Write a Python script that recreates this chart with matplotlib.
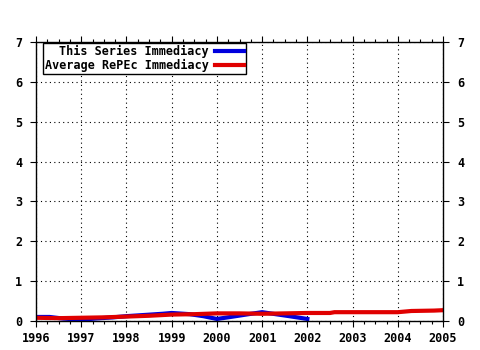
import matplotlib
matplotlib.use('Agg')
import matplotlib.pyplot as plt
from matplotlib.ticker import MultipleLocator

plt.rcParams.update({'font.family': 'DejaVu Sans Mono', 'font.weight': 'bold', 'font.size': 8.5})

# Series data
series_years = [1996.0, 1996.3, 1996.6, 1997.0, 1997.3, 1997.7, 1998.0, 1998.4, 1998.8,
                1999.0, 1999.4, 1999.7, 2000.0, 2000.3, 2000.7, 2001.0, 2001.3,
                2001.6, 2002.0]
series_vals = [0.10, 0.10, 0.06, 0.03, 0.06, 0.09, 0.12, 0.15, 0.18, 0.20, 0.17, 0.12,
               0.05, 0.10, 0.17, 0.22, 0.17, 0.12, 0.05]

avg_years = [1996.0, 1996.5, 1997.0, 1997.5, 1998.0, 1998.5, 1999.0, 1999.5,
             2000.0, 2000.5, 2001.0, 2001.5, 2002.0, 2002.5, 2002.6, 2003.0, 2003.5,
             2004.0, 2004.3, 2004.8, 2005.0]
avg_vals = [0.08, 0.07, 0.08, 0.09, 0.11, 0.13, 0.16, 0.17, 0.19, 0.19, 0.18, 0.19,
            0.20, 0.20, 0.22, 0.22, 0.22, 0.22, 0.25, 0.26, 0.27]

year_ticks = list(range(1996, 2006))
y_ticks = list(range(0, 8))

fig = plt.figure(figsize=(4.8, 3.5), dpi=100)
ax = fig.add_axes([0.075, 0.083, 0.848, 0.797])

ax.plot(series_years, series_vals, color='#0000dd', linewidth=3, label='This Series Immediacy')
ax.plot(avg_years, avg_vals, color='#e00000', linewidth=3, label='Average RePEc Immediacy')

ax.set_xlim(1996, 2005)
ax.set_ylim(0, 7)
ax.set_xticks(year_ticks)
ax.set_xticklabels([str(y) for y in year_ticks])
ax.set_yticks(y_ticks)
ax.xaxis.set_minor_locator(MultipleLocator(0.25))
ax.grid(True, which='major', color='black', linestyle=(0, (1, 3)), linewidth=0.8)
ax.tick_params(axis='both', which='major', direction='out', top=True, right=True,
               labelright=True, length=4, width=0.8)
ax.tick_params(axis='x', which='minor', direction='out', top=True, length=2, width=0.8)
ax.tick_params(axis='x', which='major', pad=4)
ax.tick_params(axis='y', which='major', pad=6)
for s in ax.spines.values():
    s.set_linewidth(1.0)

leg = ax.legend(loc='upper left', bbox_to_anchor=(0.015, 1.0), frameon=True, fancybox=False,
                edgecolor='black', framealpha=1, borderpad=0.15, handlelength=2.5,
                labelspacing=0.05, markerfirst=False, borderaxespad=0.1,
                handletextpad=0.5, alignment='right')
leg.get_frame().set_linewidth(1.0)
for t in leg.get_texts():
    t.set_ha('right')

fig.savefig('out.png', dpi=100)
